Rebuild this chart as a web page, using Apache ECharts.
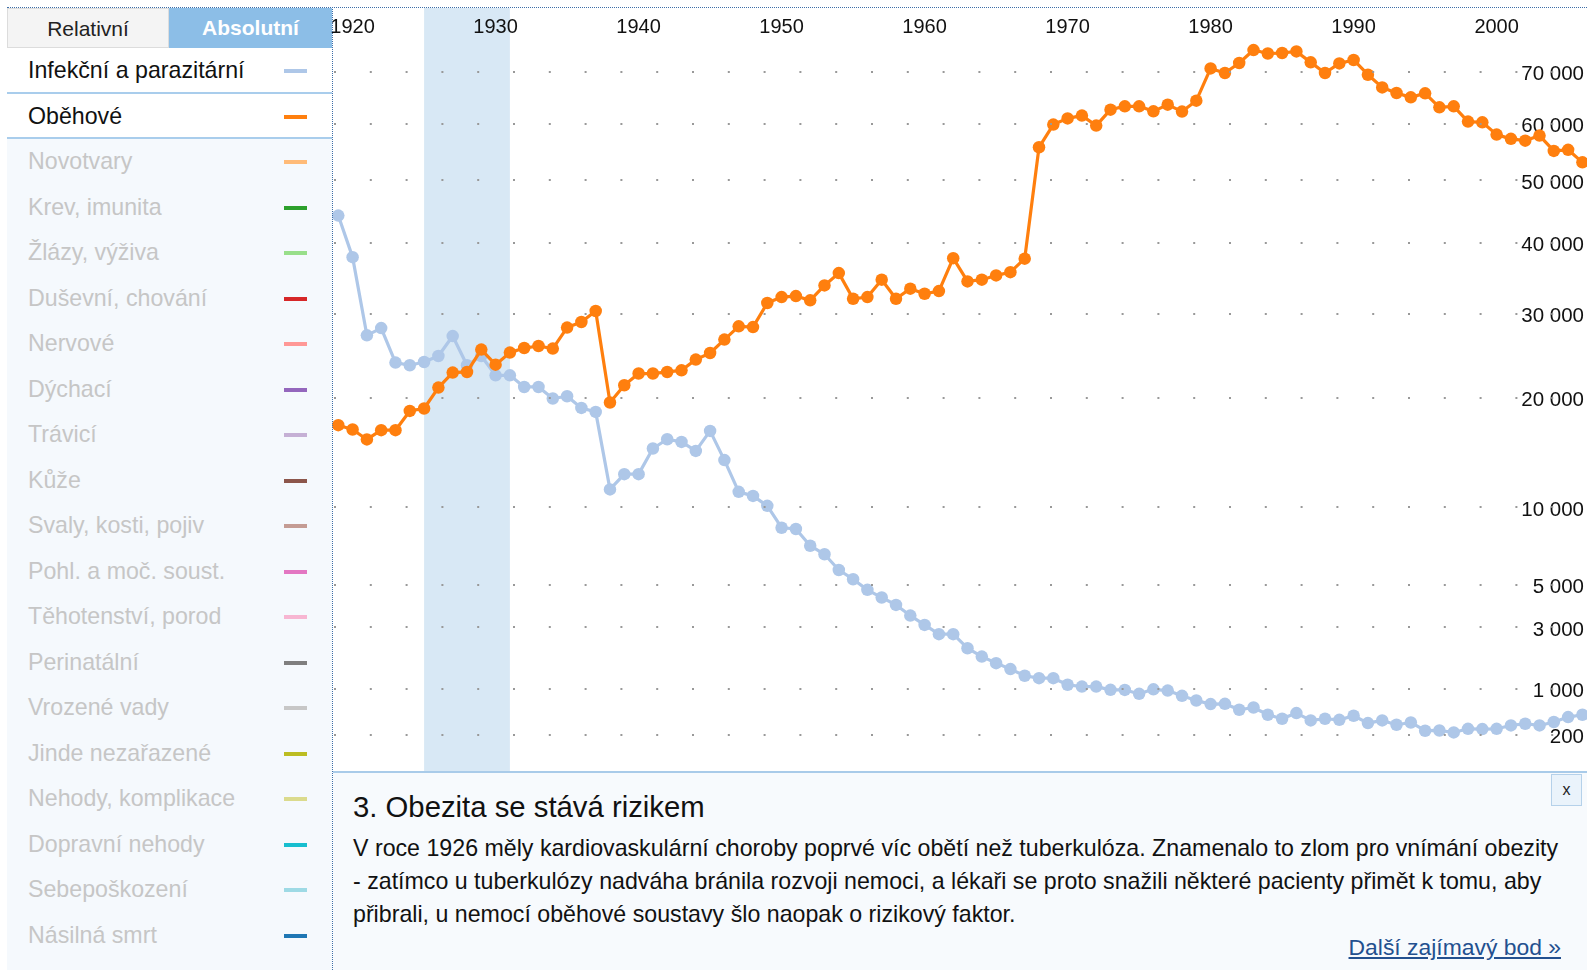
<!DOCTYPE html>
<html>
<head>
<meta charset="utf-8">
<script src="https://cdn.jsdelivr.net/npm/echarts@6/dist/echarts.min.js"></script>
<style>
  html, body { margin: 0; padding: 0; background: #fff; }
  body { width: 1587px; height: 970px; position: relative; overflow: hidden;
         font-family: "Liberation Sans", Arial, Helvetica, sans-serif; color: #111; }
  #panel { position: absolute; left: 7px; top: 8px; width: 325px; height: 962px; background: #f5f9fd; }
  .btn { position: absolute; top: 0; height: 40px; line-height: 39px; text-align: center; font-size: 21px; box-sizing: border-box; }
  #btnRel { left: 0; width: 162px; background: #f4f4f4; border: 1px solid #dcdcdc; color: #222; }
  #btnAbs { left: 162px; width: 163px; background: #8cbee7; color: #fff; font-weight: bold; }
  .row { position: absolute; left: 0; width: 325px; height: 45.5px; line-height: 45.5px; font-size: 23.2px; padding-left: 21px; box-sizing: border-box; white-space: nowrap; }
  .row.on { background: #fff; color: #111; }
  .row.off { color: #c6c6c6; }
  .sw { position: absolute; left: 277px; width: 23px; height: 4px; }
  .sep { position: absolute; left: 0; width: 325px; height: 2px; background: #a9cdec; }
  #chart { position: absolute; left: 324px; top: 8px; width: 1263px; height: 764px; }
  #info { position: absolute; left: 333px; top: 771px; width: 1254px; height: 199px; background: #f7fafd; border-top: 2px solid #a9cbe9; }
  #info h2 { position: absolute; left: 20px; top: 17px; margin: 0; font-weight: normal; font-size: 29.3px; line-height: 34px; color: #111; white-space: nowrap; }
  #info p { position: absolute; left: 20px; top: 59px; margin: 0; font-size: 23.2px; line-height: 33px; color: #111; white-space: nowrap; }
  #info a { position: absolute; right: 26px; top: 161px; font-size: 22.9px; line-height: 26px; color: #23508f; text-decoration: underline; white-space: nowrap; }
  #close { position: absolute; left: 1218px; top: 1px; width: 31px; height: 32px; box-sizing: border-box; background: #eaf3fb; border: 1px solid #b5d1ea; font-size: 16px; line-height: 30px; text-align: center; color: #222; }
  #dotTop { position: absolute; left: 7px; top: 7px; width: 1580px; height: 0; border-top: 1px dotted #3d6ea8; }
  #dotLeft { position: absolute; left: 332px; top: 7px; width: 0; height: 963px; border-left: 1px dotted #3d6ea8; }
</style>
</head>
<body>
<div id="panel"></div>
<div id="chart"></div>
<div id="info">
  <h2>3. Obezita se stává rizikem</h2>
  <p>V roce 1926 měly kardiovaskulární choroby poprvé víc obětí než tuberkulóza. Znamenalo to zlom pro vnímání obezity<br>- zatímco u tuberkulózy nadváha bránila rozvoji nemoci, a lékaři se proto snažili některé pacienty přimět k tomu, aby<br>přibrali, u nemocí oběhové soustavy šlo naopak o rizikový faktor.</p>
  <a>Další zajímavý bod »</a>
  <div id="close">x</div>
</div>
<div id="dotTop"></div>
<div id="dotLeft"></div>
<script>
// ---------- data ----------
const years = [1919,1920,1921,1922,1923,1924,1925,1926,1927,1928,1929,1930,1931,1932,1933,1934,1935,1936,1937,1938,1939,
  1940,1941,1942,1943,1944,1945,1946,1947,1948,1949,1950,1951,1952,1953,1954,1955,1956,1957,1958,1959,
  1960,1961,1962,1963,1964,1965,1966,1967,1968,1969,1970,1971,1972,1973,1974,1975,1976,1977,1978,1979,
  1980,1981,1982,1983,1984,1985,1986,1987,1988,1989,1990,1991,1992,1993,1994,1995,1996,1997,1998,1999,
  2000,2001,2002,2003,2004,2005,2006];

const infekcni = [44150,37800,27190,28100,23900,23590,23970,24680,27100,23590,24680,22440,22440,21140,21140,19890,20130,18900,18490,11390,12650,
  12650,14920,15790,15540,14700,16590,13870,11190,10870,10100,8510,8420,7300,6760,5820,5300,4730,4340,3980,3490,
  3085,2710,2710,2185,1900,1690,1510,1320,1255,1255,1085,1040,1040,963,960,872,975,945,828,729,
  657,663,552,593,467,404,495,379,404,388,451,341,379,318,350,243,246,223,266,263,
  266,309,332,309,356,430,467];

const obehove = [17150,16730,15770,16660,16660,18590,18840,21070,22750,22820,25440,23660,25080,25630,25880,25560,28160,28870,30300,19470,21330,
  22640,22640,22820,23010,24250,25030,26660,28320,28230,31360,32160,32300,31720,33760,35490,31940,32160,34560,31940,33310,
  32620,32980,37650,34320,34560,35160,35630,37570,55650,59770,60920,61440,59580,62560,63190,63190,62240,63510,62190,64270,
  70590,69680,71680,74320,73620,73710,74040,71810,69680,71600,72290,69330,66830,65740,64900,65680,62990,63190,60320,60190,
  57930,57160,56840,57750,55000,55200,53000];

const yTickValues = [200, 1000, 3000, 5000, 10000, 20000, 30000, 40000, 50000, 60000, 70000];
const xTickYears = [1920, 1930, 1940, 1950, 1960, 1970, 1980, 1990, 2000];
const highlightYears = [1925, 1931];

const legendNames = ['Infekční a parazitární','Oběhové','Novotvary','Krev, imunita','Žlázy, výživa','Duševní, chování','Nervové','Dýchací','Trávicí','Kůže','Svaly, kosti, pojiv','Pohl. a moč. soust.','Těhotenství, porod','Perinatální','Vrozené vady','Jinde nezařazené','Nehody, komplikace','Dopravní nehody','Sebepoškození','Násilná smrt'];
const legendColors = ['#aec7e8','#ff7f0e','#ffbb78','#2ca02c','#98df8a','#d62728','#ff9896','#9467bd','#c5b0d5','#8c564b','#c49c94','#e377c2','#f7b6d2','#7f7f7f','#c7c7c7','#bcbd22','#dbdb8d','#17becf','#9edae5','#1f77b4'];
const activeCount = 2;

// ---------- left panel ----------
const panel = document.getElementById('panel');
let html = '<div class="btn" id="btnRel">Relativní</div><div class="btn" id="btnAbs">Absolutní</div>';
legendNames.forEach((n, i) => {
  const top = 40 + 45.5 * i;
  html += '<div class="row ' + (i < activeCount ? 'on' : 'off') + '" style="top:' + top + 'px">' + n +
          '<div class="sw" style="top:21px;background:' + legendColors[i] + '"></div></div>';
});
html += '<div class="sep" style="top:84px"></div><div class="sep" style="top:128.5px"></div>';
panel.innerHTML = html;

// ---------- chart (square-root scale) ----------
const sq = v => Math.sqrt(v);
const fmt = n => String(n).replace(/\B(?=(\d{3})+(?!\d))/g, ' ');
const chart = echarts.init(document.getElementById('chart'), null, { renderer: 'canvas' });

chart.setOption({
  animation: false,
  grid: { left: 10, right: 0, top: 0, bottom: 0, containLabel: false, outerBoundsMode: 'none' },
  xAxis: {
    type: 'value', position: 'top', min: 1918.7, max: 2006.32, z: 5,
    axisLine: { show: false }, axisTick: { show: false }, splitLine: { show: false },
    axisLabel: { inside: true, margin: 9, customValues: xTickYears, color: '#111', fontSize: 20,
                 fontFamily: '"Liberation Sans", Arial, sans-serif', formatter: v => String(v) }
  },
  yAxis: {
    type: 'value', position: 'right', min: 0, max: 288.5,
    axisLine: { show: false }, axisTick: { show: false }, splitLine: { show: false },
    axisLabel: { inside: true, margin: 3, customValues: yTickValues.map(sq),
                 formatter: v => '{t|' + fmt(Math.round(v * v / 100) * 100) + '}',
                 rich: { t: { color: '#111', fontSize: 20.5, padding: [6, 0, 0, 0],
                              fontFamily: '"Liberation Sans", Arial, sans-serif' } } }
  },
  series: [
    { type: 'line', name: 'band', data: [], z: 1, silent: true,
      markArea: { silent: true, itemStyle: { color: '#d8e8f5' },
                  data: [[{ xAxis: highlightYears[0] }, { xAxis: highlightYears[1] }]] } },
    { type: 'line', name: 'dots', data: [], z: 2, silent: true,
      markLine: { silent: true, symbol: ['none', 'none'], label: { show: false },
                  lineStyle: { type: [2, 33.8], color: '#999999', width: 2 },
                  emphasis: { disabled: true },
                  data: yTickValues.map(v => ({ yAxis: sq(v) })) } },
    { type: 'line', name: legendNames[0], z: 3,
      data: years.map((y, i) => [y, sq(infekcni[i])]),
      symbol: 'circle', symbolSize: 12.5, showSymbol: true,
      lineStyle: { color: legendColors[0], width: 3.2 }, itemStyle: { color: legendColors[0] } },
    { type: 'line', name: legendNames[1], z: 4,
      data: years.map((y, i) => [y, sq(obehove[i])]),
      symbol: 'circle', symbolSize: 12.5, showSymbol: true,
      lineStyle: { color: legendColors[1], width: 3.2 }, itemStyle: { color: legendColors[1] } }
  ]
});
</script>
</body>
</html>
